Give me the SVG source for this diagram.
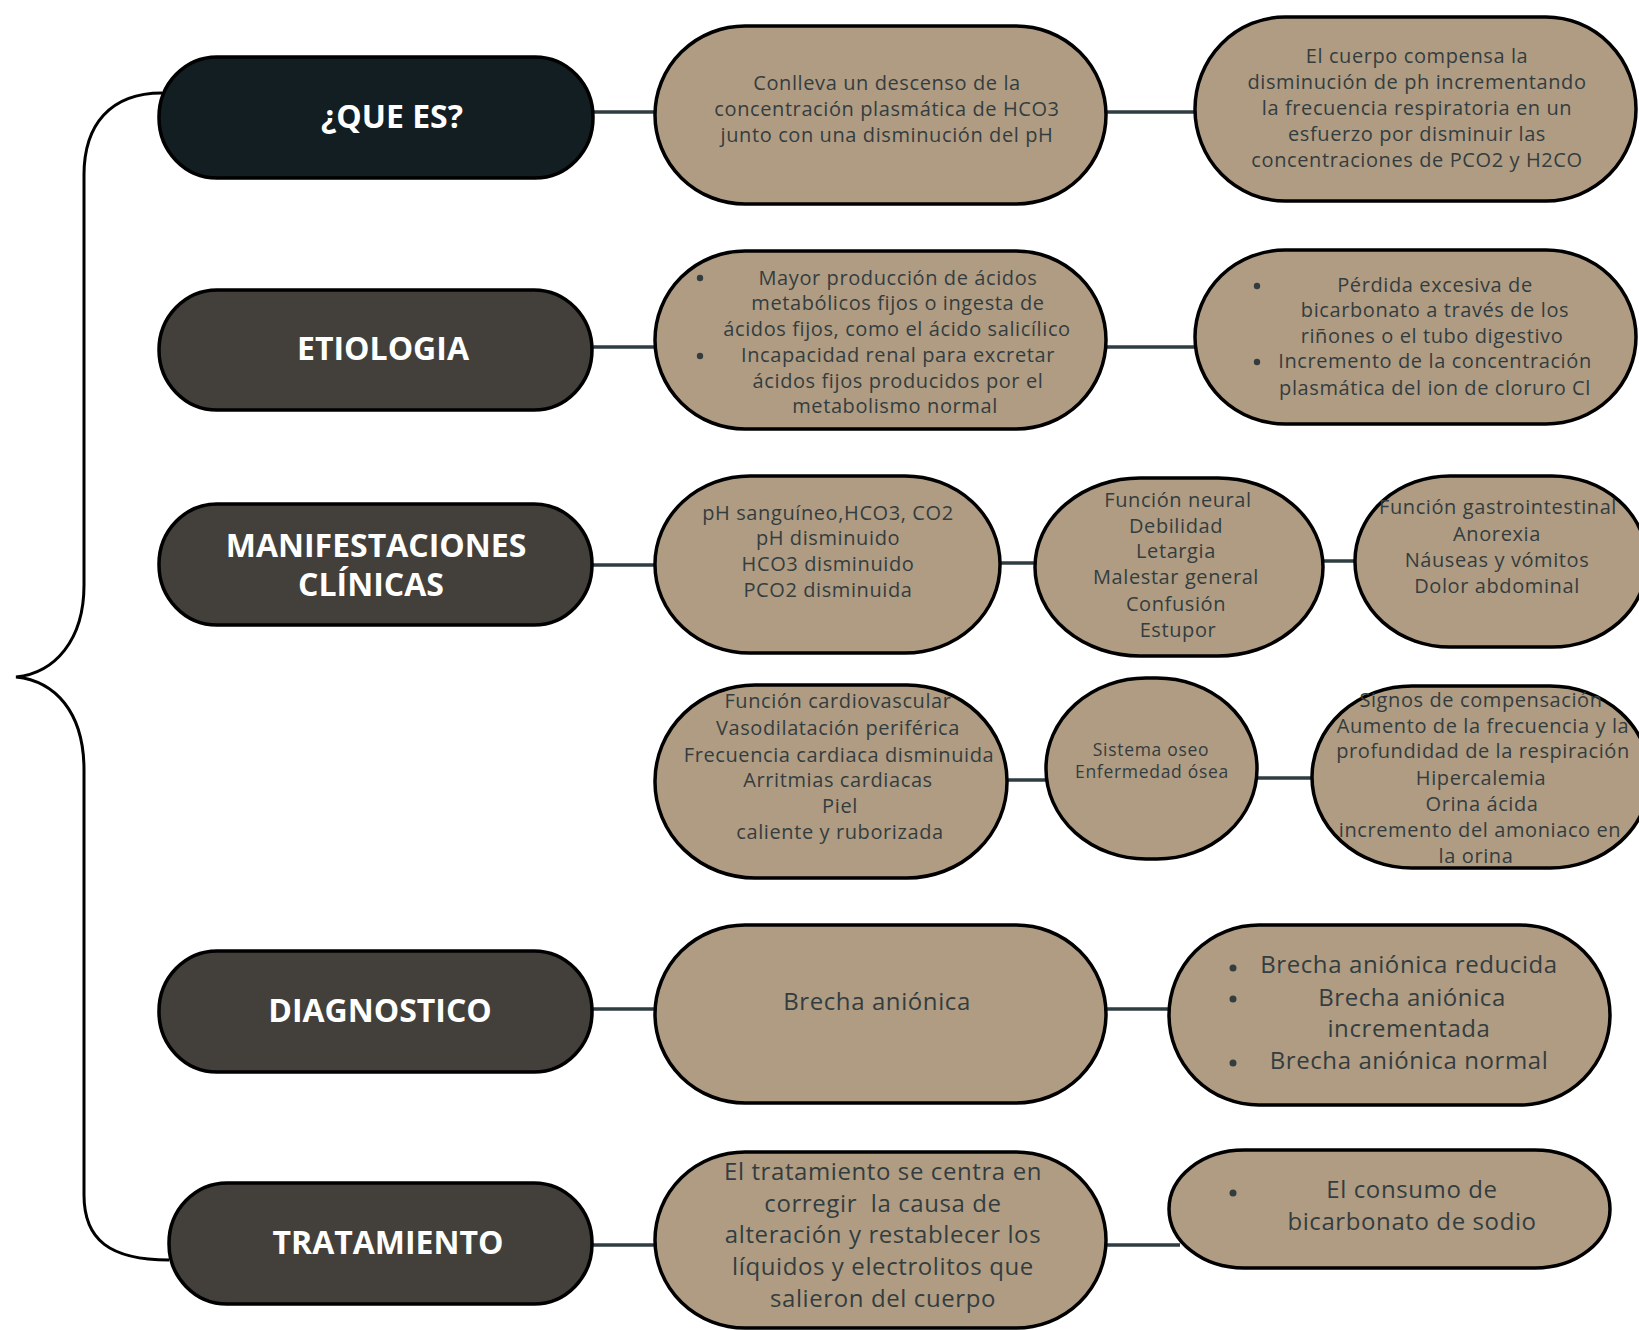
<svg xmlns="http://www.w3.org/2000/svg" width="1639" height="1330" viewBox="0 0 1639 1330">
<style>
.hd{stroke:#000;stroke-width:3.5}
.nd{fill:#b09c82;stroke:#000;stroke-width:3.5}
.ht{font-family:"Open Sans","Liberation Sans",sans-serif;font-weight:700;font-size:32px;fill:#fff;text-anchor:middle}
.t{font-family:"Open Sans","Liberation Sans",sans-serif;font-size:20px;letter-spacing:0.6px;fill:#333d40;text-anchor:middle}
.tl{font-family:"Open Sans","Liberation Sans",sans-serif;font-size:24px;letter-spacing:0.6px;fill:#333d40;text-anchor:middle}
.ts{font-family:"Open Sans","Liberation Sans",sans-serif;font-size:17.5px;letter-spacing:0.7px;fill:#333d40;text-anchor:middle}
.cn{stroke:#2f3d42;stroke-width:3.5;fill:none}
.br{stroke:#000;stroke-width:3;fill:none}
.bu{fill:#333d40}
</style>
<rect width="1639" height="1330" fill="#fff"/>
<g id="connectors">
<path class="br" d="M162 93 C110 93 84 125 84 175 L84 585 C84 640 55 673 16 677 C55 681 84 712 84 770 L84 1195 C84 1240 110 1260 169 1260"/>
<line class="cn" x1="594" y1="112" x2="655" y2="112"/>
<line class="cn" x1="1106" y1="112" x2="1195" y2="112"/>
<line class="cn" x1="592" y1="347" x2="655" y2="347"/>
<line class="cn" x1="1106" y1="347" x2="1195" y2="347"/>
<line class="cn" x1="592" y1="565" x2="655" y2="565"/>
<line class="cn" x1="1000" y1="563" x2="1035" y2="563"/>
<line class="cn" x1="1323" y1="561" x2="1355" y2="561"/>
<line class="cn" x1="1007" y1="780" x2="1046" y2="780"/>
<line class="cn" x1="1257" y1="778" x2="1312" y2="778"/>
<line class="cn" x1="592" y1="1009" x2="655" y2="1009"/>
<line class="cn" x1="1106" y1="1009" x2="1169" y2="1009"/>
<line class="cn" x1="592" y1="1245" x2="655" y2="1245"/>
<line class="cn" x1="1106" y1="1245" x2="1180" y2="1245"/>
</g>
<g id="que-es">
<rect class="hd" x="159" y="57" width="434" height="121" rx="58" ry="60" fill="#121e22"/>
<text class="ht" x="392" y="128">¿QUE ES?</text>
</g>
<g id="etiologia">
<rect class="hd" x="159" y="290" width="433" height="120" rx="58" ry="60" fill="#433f3a"/>
<text class="ht" x="383" y="360">ETIOLOGIA</text>
</g>
<g id="manifestaciones">
<rect class="hd" x="159" y="504" width="433" height="121" rx="58" ry="60" fill="#433f3a"/>
<text class="ht" x="376" y="557">MANIFESTACIONES</text>
<text class="ht" x="371" y="596">CLÍNICAS</text>
</g>
<g id="diagnostico">
<rect class="hd" x="159" y="951" width="433" height="121" rx="58" ry="60" fill="#433f3a"/>
<text class="ht" x="380" y="1022">DIAGNOSTICO</text>
</g>
<g id="tratamiento">
<rect class="hd" x="169" y="1183" width="423" height="121" rx="58" ry="60" fill="#433f3a"/>
<text class="ht" x="388" y="1254">TRATAMIENTO</text>
</g>
<g id="definicion">
<rect class="nd" x="655" y="26" width="451" height="178" rx="90" ry="89"/>
<text class="t" x="887" y="90">Conlleva un descenso de la</text>
<text class="t" x="887" y="116">concentración plasmática de HCO3</text>
<text class="t" x="887" y="142">junto con una disminución del pH</text>
</g>
<g id="compensacion">
<rect class="nd" x="1195" y="17" width="441" height="184" rx="90" ry="92"/>
<text class="t" x="1417" y="63">El cuerpo compensa la</text>
<text class="t" x="1417" y="89">disminución de ph incrementando</text>
<text class="t" x="1417" y="115">la frecuencia respiratoria en un</text>
<text class="t" x="1417" y="141">esfuerzo por disminuir las</text>
<text class="t" x="1417" y="167">concentraciones de PCO2 y H2CO</text>
</g>
<g id="etiologia-1">
<rect class="nd" x="655" y="251" width="451" height="178" rx="90" ry="89"/>
<circle class="bu" cx="700" cy="278" r="3.2"/>
<circle class="bu" cx="700" cy="356" r="3.2"/>
<text class="t" x="898" y="285">Mayor producción de ácidos</text>
<text class="t" x="898" y="310">metabólicos fijos o ingesta de</text>
<text class="t" x="897" y="336">ácidos fijos, como el ácido salicílico</text>
<text class="t" x="898" y="362">Incapacidad renal para excretar</text>
<text class="t" x="898" y="388">ácidos fijos producidos por el</text>
<text class="t" x="895" y="413">metabolismo normal</text>
</g>
<g id="etiologia-2">
<rect class="nd" x="1195" y="250" width="441" height="174" rx="90" ry="87"/>
<circle class="bu" cx="1257" cy="286" r="3.2"/>
<circle class="bu" cx="1257" cy="362" r="3.2"/>
<text class="t" x="1435" y="292">Pérdida excesiva de</text>
<text class="t" x="1435" y="317">bicarbonato a través de los</text>
<text class="t" x="1432" y="343">riñones o el tubo digestivo</text>
<text class="t" x="1435" y="368">Incremento de la concentración</text>
<text class="t" x="1435" y="395">plasmática del ion de cloruro Cl</text>
</g>
<g id="gases">
<rect class="nd" x="655" y="476" width="345" height="177" rx="95" ry="88"/>
<text class="t" x="828" y="520">pH sanguíneo,HCO3, CO2</text>
<text class="t" x="828" y="545">pH disminuido</text>
<text class="t" x="828" y="571">HCO3 disminuido</text>
<text class="t" x="828" y="597">PCO2 disminuida</text>
</g>
<g id="neural">
<rect class="nd" x="1035" y="478" width="288" height="178" rx="105" ry="89"/>
<text class="t" x="1178" y="507">Función neural</text>
<text class="t" x="1176" y="533">Debilidad</text>
<text class="t" x="1176" y="558">Letargia</text>
<text class="t" x="1176" y="584">Malestar general</text>
<text class="t" x="1176" y="611">Confusión</text>
<text class="t" x="1178" y="637">Estupor</text>
</g>
<g id="gastro">
<rect class="nd" x="1355" y="476" width="292" height="171" rx="95" ry="85"/>
<text class="t" x="1498" y="514">Función gastrointestinal</text>
<text class="t" x="1497" y="541">Anorexia</text>
<text class="t" x="1497" y="567">Náuseas y vómitos</text>
<text class="t" x="1497" y="593">Dolor abdominal</text>
</g>
<g id="cardio">
<rect class="nd" x="655" y="685" width="352" height="193" rx="100" ry="96"/>
<text class="t" x="838" y="708">Función cardiovascular</text>
<text class="t" x="838" y="735">Vasodilatación periférica</text>
<text class="t" x="839" y="762">Frecuencia cardiaca disminuida</text>
<text class="t" x="838" y="787">Arritmias cardiacas</text>
<text class="t" x="840" y="813">Piel</text>
<text class="t" x="840" y="839">caliente y ruborizada</text>
</g>
<g id="oseo">
<rect class="nd" x="1046" y="678" width="211" height="181" rx="100" ry="90"/>
<text class="ts" x="1151" y="756">Sistema oseo</text>
<text class="ts" x="1152" y="778">Enfermedad ósea</text>
</g>
<g id="compensacion-signos">
<rect class="nd" x="1312" y="686" width="338" height="182" rx="100" ry="91"/>
<text class="t" x="1481" y="707">Signos de compensación</text>
<text class="t" x="1483" y="733">Aumento de la frecuencia y la</text>
<text class="t" x="1483" y="758">profundidad de la respiración</text>
<text class="t" x="1481" y="785">Hipercalemia</text>
<text class="t" x="1482" y="811">Orina ácida</text>
<text class="t" x="1480" y="837">incremento del amoniaco en</text>
<text class="t" x="1476" y="863">la orina</text>
</g>
<g id="brecha">
<rect class="nd" x="655" y="925" width="451" height="178" rx="90" ry="89"/>
<text class="tl" x="877" y="1010">Brecha aniónica</text>
</g>
<g id="brecha-tipos">
<rect class="nd" x="1169" y="925" width="441" height="180" rx="90" ry="90"/>
<circle class="bu" cx="1233" cy="968" r="3.5"/>
<circle class="bu" cx="1233" cy="999" r="3.5"/>
<circle class="bu" cx="1233" cy="1063" r="3.5"/>
<text class="tl" x="1409" y="973">Brecha aniónica reducida</text>
<text class="tl" x="1412" y="1006">Brecha aniónica</text>
<text class="tl" x="1409" y="1037">incrementada</text>
<text class="tl" x="1409" y="1069">Brecha aniónica normal</text>
</g>
<g id="tratamiento-1">
<rect class="nd" x="655" y="1152" width="451" height="176" rx="90" ry="88"/>
<text class="tl" x="883" y="1180">El tratamiento se centra en</text>
<text class="tl" x="883" y="1212" xml:space="preserve">corregir  la causa de</text>
<text class="tl" x="883" y="1243">alteración y restablecer los</text>
<text class="tl" x="883" y="1275">líquidos y electrolitos que</text>
<text class="tl" x="883" y="1307">salieron del cuerpo</text>
</g>
<g id="tratamiento-2">
<rect class="nd" x="1169" y="1150" width="441" height="118" rx="75" ry="59"/>
<circle class="bu" cx="1233" cy="1193" r="3.5"/>
<text class="tl" x="1412" y="1198">El consumo de</text>
<text class="tl" x="1412" y="1230">bicarbonato de sodio</text>
</g>
</svg>
